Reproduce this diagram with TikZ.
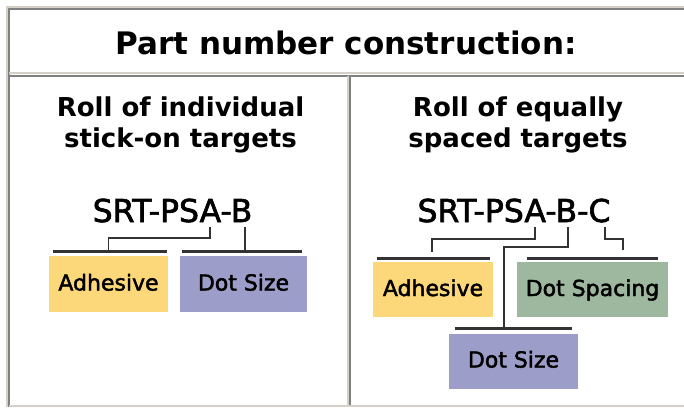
\documentclass[tikz,border=0pt]{standalone}
\usepackage{fontspec}
\setmainfont{DejaVu Sans}
\newfontfamily\tagfont{DejaVu Sans}[FakeBold=2]
\usetikzlibrary{positioning,calc}
\definecolor{bevellight}{HTML}{D4D0C8}
\definecolor{beveldark}{HTML}{808080}
\definecolor{linegrey}{HTML}{333333}
\definecolor{adhyellow}{HTML}{FCD87A}
\definecolor{sizeblue}{HTML}{9D9DC9}
\definecolor{spacegreen}{HTML}{9DB89E}

\begin{document}
\begin{tikzpicture}[
    x=1pt, y=-1pt,
    nosep/.style={inner sep=0},
    lightedge/.style={draw=bevellight, line width=2pt},
    darkedge/.style={draw=beveldark, line width=2pt},
    heading/.style={nosep, anchor=base, font=\bfseries\fontsize{31}{31}\selectfont},
    subhead/.style={nosep, align=center, font=\bfseries\fontsize{26}{31}\selectfont},
    partno/.style={nosep, anchor=base, font=\tagfont\fontsize{31.5}{31.5}\selectfont},
    tag/.style={nosep, minimum height=56pt, text height=17pt, text depth=4pt, font=\tagfont\fontsize{22}{22}\selectfont},
    bar/.style={draw=linegrey, line width=3pt},
    link/.style={draw=linegrey, line width=1.6pt}]

\useasboundingbox[fill=white] (0,0) rectangle (684,407);

% table frame
\path[lightedge] (7,407) -- (7,7) -- (684,7);
\path[darkedge] (9,407) -- (9,9) -- (684,9);
\path[lightedge] (9,73) -- (684,73);
\path[darkedge] (9,75.5) -- (684,75.5);
\path[lightedge] (348,76) -- (348,407);
\path[darkedge] (350,76) -- (350,407);
\path[lightedge] (9,406) -- (684,406);

\node[heading] (title) at (346,54) {Part number construction:};
\node[subhead] (headL) at (180.5,124.5) {Roll of individual\\stick-on targets};
\node[subhead] (headR) at (518,124.5) {Roll of equally\\spaced targets};

% left: individual targets
\node[partno] (pnL) at (172.5,222) {SRT-PSA-B};
\node[tag, fill=adhyellow, minimum width=119pt] (adhL) at (108.5,284) {Adhesive};
\node[tag, fill=sizeblue, minimum width=127pt] (dotL) at (243.5,284) {Dot Size};
\coordinate (tapLA) at (210,227);
\coordinate (tapLB) at (245,227);

\path[bar] ($(adhL.north west)+(4,-4)$) -- ($(adhL.north east)+(-1,-4)$);
\path[bar] ($(dotL.north west)+(2,-4)$) -- ($(dotL.north east)+(-5,-4)$);
\path[link] (tapLA) -- ++(0,11) -| ($(adhL.north)+(0,-4)$);
\path[link] (tapLB) -- ($(tapLB |- dotL.north)+(0,-4)$);

% right: equally spaced targets
\node[partno] (pnR) at (514,222) {SRT-PSA-B-C};
\node[tag, fill=adhyellow, minimum width=120pt, minimum height=55pt] (adhR) at (433,289.5) {Adhesive};
\node[tag, fill=spacegreen, minimum width=151pt, minimum height=55pt] (spcR) at (592.5,289.5) {Dot Spacing};
\node[tag, fill=sizeblue, minimum width=129pt, minimum height=55pt] (dotR) at (513.5,361) {Dot Size};
\coordinate (tapRA) at (535,227);
\coordinate (tapRB) at (568,227);
\coordinate (tapRC) at (605,227);

\path[bar] ($(adhR.north west)+(4,-3)$) -- ($(adhR.north east)+(-3,-3)$);
\path[bar] ($(spcR.north west)+(10,-3)$) -- ($(spcR.north east)+(-10,-3)$);
\path[bar] ($(dotR.north west)+(6,-5)$) -- ($(dotR.north east)+(-6,-5)$);
\path[link] (tapRA) -- ++(0,12) -| ($(adhR.north)+(-1,-10)$);
\path[link] (tapRB) -- ++(0,20) -| ($(dotR.north)+(-9.5,-5)$);
\path[link] (tapRC) -- ++(0,12) -| ($(spcR.north)+(30.5,-12)$);

\end{tikzpicture}
\end{document}
